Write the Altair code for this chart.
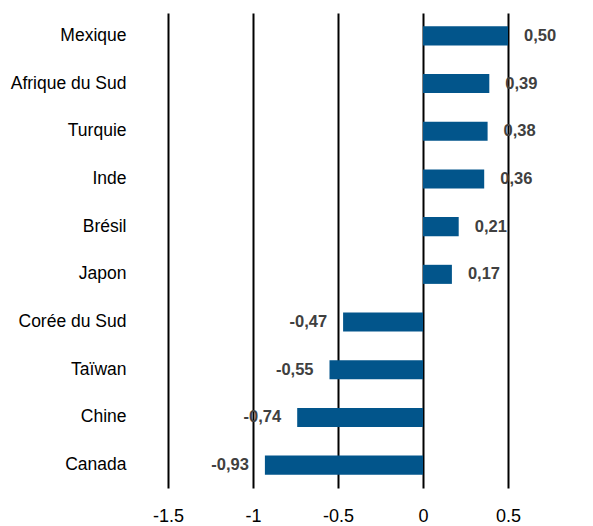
import altair as alt
import pandas as pd

countries = ["Mexique", "Afrique du Sud", "Turquie", "Inde", "Brésil", "Japon",
             "Corée du Sud", "Taïwan", "Chine", "Canada"]
values = [0.50, 0.39, 0.38, 0.36, 0.21, 0.17, -0.47, -0.55, -0.74, -0.93]
x_ticks = [-1.5, -1, -0.5, 0, 0.5, 1]

df = pd.DataFrame({"pays": countries, "val": values})
df["lab"] = [f"{v:.2f}".replace(".", ",") for v in values]

FONT = "Liberation Sans"

x = alt.X("val:Q", scale=alt.Scale(domain=[-1.5, 1], nice=False, zero=False),
          axis=alt.Axis(values=x_ticks, title=None, grid=True, gridColor="#000000",
                        gridWidth=2, gridOpacity=1, domain=False, ticks=False,
                        labelExpr="datum.value + ''", labelFont=FONT, labelFontSize=18,
                        labelColor="#000000", labelPadding=19, labelFlush=False))
y = alt.Y("pays:N", sort=countries,
          scale=alt.Scale(paddingInner=0.6, paddingOuter=0.28),
          axis=alt.Axis(title=None, domain=False, ticks=False, grid=False,
                        labelFont=FONT, labelFontSize=17.5, labelColor="#000000",
                        labelPadding=42))

bars = alt.Chart(df).mark_bar(color="#02558B").encode(x=x, y=y)

pos = alt.Chart(df).transform_filter("datum.val >= 0").mark_text(
    align="left", baseline="middle", dx=16, font=FONT, fontSize=16.5,
    fontWeight="bold", color="#404040").encode(x="val:Q", y=alt.Y("pays:N", sort=countries), text="lab:N")
neg = alt.Chart(df).transform_filter("datum.val < 0").mark_text(
    align="right", baseline="middle", dx=-16, font=FONT, fontSize=16.5,
    fontWeight="bold", color="#404040").encode(x="val:Q", y=alt.Y("pays:N", sort=countries), text="lab:N")

chart = alt.layer(bars, pos, neg).properties(
    width=425, height=475,
    autosize=alt.AutoSizeParams(type="none"),
    padding={"left": 160, "top": 5, "right": -8, "bottom": 40},
).configure_view(stroke=None)

chart.save("out.html", embed_options={"renderer": "svg", "actions": False})
